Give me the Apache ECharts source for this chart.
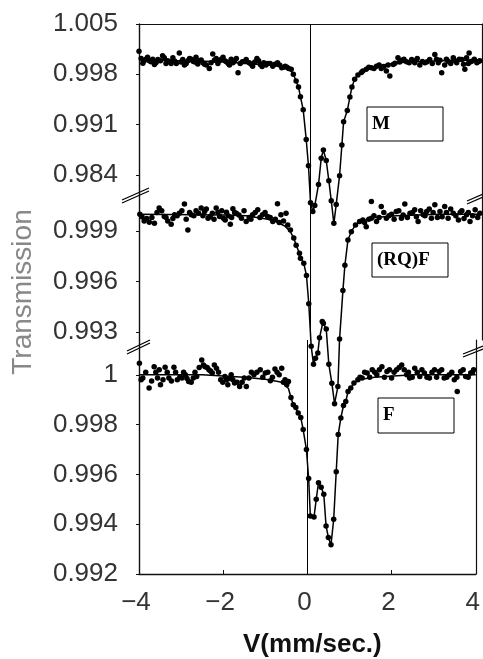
<!DOCTYPE html>
<html>
<head>
<meta charset="utf-8">
<script src="https://cdn.jsdelivr.net/npm/echarts@6/dist/echarts.min.js"></script>
<style>
html,body{margin:0;padding:0;background:#fff;}
#chart{width:483px;height:659px;}
</style>
</head>
<body>
<div id="chart"></div>
<script>
// velocity axis
var velTicks = [-4, -2, 0, 2, 4];
// tick labels of the three stacked panels (top to bottom)
var mTicks = [1.005, 0.998, 0.991, 0.984];
var rqfTicks = [0.999, 0.996, 0.993];
var fTicks = [1, 0.998, 0.996, 0.994, 0.992];
var panelNames = ['M', '(RQ)F', 'F'];

// M : measured points [velocity, transmission]
var mDots = [
	[-4.0,1.0012],[-3.95,1.0002],[-3.88,0.9999],[-3.80,1.00038],[-3.72,0.99974],[-3.64,0.99937],[-3.56,1.00006],[-3.45,1.0006],
	[-3.37,0.99951],[-3.29,0.99974],[-3.21,1.00029],[-3.13,0.99951],[-3.06,1.00098],[-2.98,1.00006],[-2.90,0.99951],[-2.82,1.0002],
	[-2.74,0.99983],[-2.67,1.00038],[-2.59,0.9999],[-2.51,0.9996],[-2.43,0.99928],[-2.36,0.99882],[-2.28,1.00084],[-2.20,1.0002],
	[-2.12,0.9999],[-2.04,1.00038],[-1.96,0.99974],[-1.89,0.99928],[-1.81,0.9996],[-1.73,1.0002],[-1.69,0.99823],[-1.59,0.99974],
	[-1.50,1.00006],[-1.43,0.9996],[-1.35,0.99914],[-1.25,1.0002],[-1.17,0.99937],[-1.09,0.9996],[-1.0,0.99951],[-0.88,0.99914],
	[-0.77,0.9996],[-0.67,0.99892],[-0.59,0.99914],[-0.51,0.99882],
	[-3.91,0.99955],[-3.84,1.0001],[-3.76,0.9999],[-3.68,1.0001],[-3.60,0.99965],[-3.50,0.9999],[-3.41,1.0003],[-3.33,0.9999],
	[-3.25,0.9995],[-3.17,0.99985],[-3.02,0.9997],[-2.94,0.9993],[-2.86,0.9999],[-2.78,1.0001],[-2.70,0.9997],[-2.63,0.99945],
	[-2.55,1.0000],[-2.47,0.9994],[-2.32,0.9996],[-2.24,0.99995],[-2.16,0.9995],[-2.08,1.0001],[-2.00,0.9999],[-1.92,0.9995],
	[-1.85,1.0001],[-1.77,0.99985],[-1.64,0.9995],[-1.54,0.9998],[-1.39,0.99945],[-1.30,0.9997],[-1.21,0.9999],[-1.13,0.9991],
	[-1.04,0.9993],[-0.94,0.9995],[-0.83,0.9994],[-0.72,0.9993],[-0.63,0.9990],[-0.55,0.9990],
	[-0.45,0.99869],[-0.40,0.998],[-0.335,0.99708],[-0.28,0.99622],[-0.234,0.99488],[-0.17,0.99306],[-0.10,0.98894],[-0.047,0.98527],
	[0.0,0.98015],[0.054,0.97892],[0.10,0.97974],[0.187,0.98266],[0.25,0.98633],[0.30,0.98747],[0.367,0.98601],[0.428,0.98321],
	[0.484,0.98043],[0.545,0.97727],[0.60,0.9799],[0.678,0.9839],[0.732,0.98816],[0.772,0.99141],[0.858,0.99296],[0.919,0.99484],
	[0.966,0.99622],[1.03,0.99731],[1.106,0.9979],[1.186,0.99827],
	[1.22,0.99845],[1.30,0.99869],[1.42,0.99892],[1.54,0.99914],[1.65,0.99882],[1.77,0.99845],[1.85,0.99777],[1.93,0.99937],
	[2.04,1.00029],[2.12,0.99996],[2.24,0.99974],[2.36,1.00006],[2.43,0.9996],[2.55,0.99928],[2.67,0.9996],[2.78,1.00006],
	[2.90,1.00075],[2.98,0.9996],[3.06,0.99823],[3.13,0.99928],[3.21,0.99983],[3.33,1.00029],[3.41,0.9996],[3.53,1.00006],
	[3.60,0.99869],[3.68,0.99951],[3.70,1.00098],[3.76,0.99983],[3.88,0.9996],[3.95,0.9999],
	[1.36,0.9990],[1.48,0.9988],[1.60,0.9993],[1.71,0.9991],[1.81,0.9993],[1.97,0.99955],[2.08,0.9997],[2.18,1.0001],
	[2.30,0.9996],[2.40,0.9999],[2.49,1.0002],[2.61,0.9998],[2.72,0.99975],[2.84,0.9995],[2.94,1.0001],[3.02,0.99995],
	[3.17,1.0001],[3.27,0.9995],[3.37,0.9999],[3.47,1.0001],[3.57,0.9994],[3.64,1.0003],[3.72,0.9997],[3.82,1.0001],[3.92,0.9998]
];
// M : fitted curve
var mFit = [
	[-4,0.99995],[-3,0.9999],[-2,0.99975],[-1.5,0.9995],[-1,0.9993],[-0.7,0.9991],[-0.55,0.9988],[-0.45,0.99845],[-0.40,0.998],
	[-0.335,0.99708],[-0.28,0.99622],[-0.234,0.99488],[-0.17,0.99306],[-0.10,0.98894],[-0.047,0.98527],[0,0.98015],[0.054,0.97892],
	[0.10,0.97974],[0.187,0.98266],[0.25,0.98633],[0.30,0.98747],[0.367,0.98601],[0.428,0.98321],[0.484,0.98043],[0.545,0.97727],
	[0.60,0.9799],[0.678,0.9839],[0.732,0.98816],[0.772,0.99141],[0.858,0.99296],[0.919,0.99484],[0.966,0.99622],[1.03,0.99731],
	[1.106,0.9979],[1.186,0.99827],[1.3,0.9986],[1.6,0.9992],[2,0.9996],[3,0.9999],[4,1.0]
];

// (RQ)F : measured points
var rqfDots = [
	[-3.98,1.0],[-3.88,0.9996],[-3.76,0.99952],[-3.64,0.99946],[-3.53,1.00036],[-3.41,0.99986],[-3.33,0.9996],[-3.25,0.9994],
	[-3.17,0.99996],[-3.06,1.00006],[-2.94,1.0006],[-2.86,0.99906],[-2.78,0.99996],[-2.67,1.0002],[-2.55,1.00036],[-2.47,1.00016],
	[-2.39,0.99976],[-2.29,1.00006],[-2.20,1.00036],[-2.12,0.99986],[-2.03,0.99976],[-1.96,1.00012],[-1.87,0.9994],[-1.81,1.00032],
	[-1.73,1.00006],[-1.61,0.99976],[-1.50,0.99956],[-1.43,0.9998],[-1.35,0.99996],[-1.23,1.00026],[-1.12,0.99996],[-1.0,0.99986],
	[-0.88,0.99956],[-0.77,1.00062],[-0.69,0.99996],[-0.57,1.00006],[-0.53,0.99936],
	[-3.93,0.99985],[-3.82,0.99975],[-3.70,0.9998],[-3.58,1.0001],[-3.47,1.0002],[-3.37,0.9998],[-3.21,0.99975],[-3.11,0.9999],
	[-3.00,1.0002],[-2.90,0.9997],[-2.82,1.0001],[-2.72,0.9999],[-2.61,1.00005],[-2.51,0.9999],[-2.43,1.0003],[-2.34,0.99985],
	[-2.25,0.9997],[-2.16,1.0001],[-2.07,1.0002],[-1.99,0.99965],[-1.92,0.9999],[-1.84,0.9998],[-1.77,1.0001],[-1.67,0.99995],
	[-1.55,1.0002],[-1.39,0.9997],[-1.29,1.0001],[-1.18,0.9998],[-1.06,1.0001],[-0.94,0.9998],[-0.82,0.9997],[-0.73,0.9995],[-0.63,0.9996],
	[-0.468,0.99906],[-0.39,0.99858],[-0.335,0.99816],[-0.257,0.99768],[-0.234,0.99738],[-0.157,0.99708],[-0.094,0.99636],[-0.04,0.99468],
	[0.016,0.99216],[0.07,0.99108],[0.117,0.99144],[0.171,0.99176],[0.21,0.99266],[0.274,0.99362],[0.30,0.99352],[0.367,0.99318],
	[0.428,0.99108],[0.498,0.98996],[0.561,0.98874],[0.639,0.98976],[0.678,0.99258],[0.756,0.99546],[0.802,0.99696],[0.873,0.99846],
	[0.952,0.99896],[1.05,0.99936],[1.146,0.99956],
	[1.22,0.99966],[1.30,0.99926],[1.42,0.99976],[1.42,1.00076],[1.54,0.99956],[1.65,1.00046],[1.77,0.99976],[1.89,1.0],
	[2.0,1.00016],[2.12,0.99976],[2.20,1.0006],[2.32,1.00006],[2.43,1.00026],[2.51,0.99956],[2.63,0.99996],[2.71,1.00016],
	[2.82,0.99976],[2.90,1.00056],[3.02,1.00016],[3.13,1.00046],[3.21,0.99976],[3.33,1.00006],[3.45,0.99966],[3.53,1.0002],
	[3.64,0.99996],[3.72,0.99956],[3.84,1.00026],[3.95,1.00006],
	[1.26,0.9995],[1.36,0.9997],[1.48,0.9999],[1.60,0.9998],[1.71,1.0001],[1.83,0.9999],[1.95,0.9997],[2.06,1.0002],
	[2.16,0.99995],[2.26,0.9998],[2.38,1.0001],[2.47,0.99985],[2.57,1.0002],[2.67,0.9999],[2.77,1.0003],[2.86,1.0001],
	[2.96,0.9998],[3.07,0.99985],[3.17,1.0001],[3.27,1.0003],[3.39,0.9999],[3.49,1.0001],[3.58,0.99975],[3.68,1.0001],[3.78,0.9999],[3.90,0.9998]
];
// (RQ)F : fitted curve
var rqfFit = [
	[-4,1.0],[-2,0.99995],[-1.5,0.9999],[-1,0.9997],[-0.8,0.99955],[-0.6,0.9993],[-0.468,0.99895],[-0.39,0.99858],[-0.335,0.99816],
	[-0.257,0.99768],[-0.234,0.99745],[-0.157,0.99708],[-0.094,0.99636],[-0.04,0.99468],[0.016,0.99216],[0.07,0.99108],[0.117,0.99144],
	[0.171,0.99176],[0.21,0.99266],[0.288,0.99356],[0.367,0.99318],[0.428,0.99108],[0.498,0.98996],[0.561,0.98874],[0.639,0.98976],
	[0.678,0.99258],[0.756,0.99546],[0.802,0.99696],[0.873,0.99846],[0.952,0.99896],[1.05,0.99936],[1.146,0.99956],[1.5,0.9998],
	[2,0.9999],[3,1.0],[4,1.0]
];

// F : measured points
var fDots = [
	[-3.99,1.00047],[-3.91,0.99987],[-3.76,0.99947],[-3.64,1.00033],[-3.56,0.99987],[-3.49,0.9996],[-3.38,1.00031],[-3.29,0.99987],
	[-3.17,1.00031],[-3.09,0.9998],[-2.98,0.99987],[-2.90,1.0],[-2.82,0.99973],[-2.71,0.99987],[-2.63,0.99993],[-2.51,1.0006],
	[-2.43,1.00033],[-2.34,1.0002],[-2.26,1.00007],[-2.16,1.00027],[-2.06,0.9998],[-1.96,0.99993],[-1.89,0.9996],[-1.81,1.0],
	[-1.73,0.99967],[-1.61,0.99953],[-1.50,0.99987],[-1.45,0.99953],[-1.39,0.99987],[-1.27,1.0],[-1.12,1.0002],[-1.0,1.00007],
	[-0.88,0.99976],[-0.77,1.00024],[-0.67,1.0],[-0.61,1.00027],[-0.53,0.9998],
	[-3.95,0.9998],[-3.84,1.0001],[-3.70,0.99975],[-3.60,1.0001],[-3.52,1.0002],[-3.43,0.9998],[-3.33,1.0001],[-3.23,0.99975],
	[-3.13,1.0001],[-3.03,0.9999],[-2.94,1.0001],[-2.86,0.99985],[-2.76,0.9997],[-2.67,1.0001],[-2.57,1.0003],[-2.47,1.0004],
	[-2.38,1.0003],[-2.30,1.00015],[-2.21,1.0004],[-2.11,1.0001],[-2.01,0.9997],[-1.92,0.9998],[-1.85,0.99985],[-1.77,0.9998],
	[-1.67,0.9997],[-1.55,0.9997],[-1.33,1.0001],[-1.20,1.0001],[-1.06,0.9999],[-0.94,1.0001],[-0.83,0.9999],[-0.72,1.0001],
	[-0.57,0.9997],[-0.49,0.9996],
	[-0.45,0.99973],[-0.39,0.99909],[-0.335,0.9988],[-0.274,0.99869],[-0.218,0.99847],[-0.157,0.99829],[-0.10,0.9978],[-0.023,0.997],
	[0.03,0.99584],[0.07,0.99433],[0.157,0.99429],[0.21,0.995],[0.264,0.99567],[0.327,0.99548],[0.39,0.9952],[0.444,0.99393],
	[0.498,0.99347],[0.561,0.99317],[0.625,0.9942],[0.685,0.99611],[0.732,0.9976],[0.795,0.99827],[0.858,0.99877],[0.912,0.99893],
	[0.966,0.99933],[1.03,0.99947],[1.106,0.99967],[1.2,0.9998],
	[1.30,0.99987],[1.42,1.00007],[1.54,1.0002],[1.65,1.0],[1.77,1.00033],[1.89,1.00013],[2.0,0.99987],[2.12,1.0002],
	[2.24,1.0004],[2.36,1.0],[2.43,0.99987],[2.55,1.00027],[2.67,0.99993],[2.78,1.00007],[2.90,0.99987],[3.02,1.0002],
	[3.13,1.00013],[3.25,0.99987],[3.37,1.0],[3.49,0.9998],[3.56,0.99933],[3.64,1.00013],[3.76,0.99993],[3.88,1.00007],[3.95,1.0002],
	[1.25,0.9999],[1.36,1.0001],[1.48,0.9999],[1.60,1.0001],[1.71,1.0002],[1.83,0.9999],[1.95,1.0002],[2.06,1.0001],
	[2.18,1.0003],[2.30,1.0002],[2.40,1.0001],[2.49,0.9999],[2.61,1.0001],[2.72,1.0002],[2.84,0.9999],[2.96,1.0001],
	[3.07,0.9999],[3.19,1.0002],[3.31,0.9999],[3.43,1.0001],[3.55,0.9999],[3.70,1.0002],[3.82,0.9999],[3.92,1.0001]
];
// F : fitted curve
var fFit = [
	[-4,1.0],[-2.5,1.0],[-1.5,0.9999],[-1,0.99982],[-0.6,0.9997],[-0.45,0.99945],[-0.39,0.99909],[-0.335,0.9988],[-0.274,0.99865],
	[-0.218,0.99847],[-0.157,0.99829],[-0.10,0.9978],[-0.023,0.997],[0.03,0.99584],[0.07,0.99433],[0.157,0.99429],[0.21,0.995],
	[0.264,0.99567],[0.327,0.99548],[0.39,0.9952],[0.444,0.99393],[0.498,0.99347],[0.561,0.99317],[0.625,0.9942],[0.685,0.99611],
	[0.732,0.9976],[0.795,0.99827],[0.858,0.99877],[0.912,0.99893],[0.966,0.99933],[1.03,0.99947],[1.106,0.99967],[1.2,0.9998],
	[1.6,0.9999],[2.5,1.0],[4,1.0]
];

var FONT = '"Liberation Sans", Arial, sans-serif';
var INK = '#111';

// layout of the three stacked panels (top, height, y range)
var panels = [
	{top: 24,  height: 168, min: 0.98163, max: 1.005,    ticks: mTicks,   dots: mDots,   fit: mFit},
	{top: 192, height: 148, min: 0.992525, max: 1.001317, ticks: rqfTicks, dots: rqfDots, fit: rqfFit},
	{top: 340, height: 235, min: 0.992,   max: 1.0014,   ticks: fTicks,   dots: fDots,   fit: fFit}
];

function fmtY(v)
{
	return String(+Number(v).toFixed(3));
}

var option = {animation: false, backgroundColor: '#fff'};
option.grid = [];
option.xAxis = [];
option.yAxis = [];
option.series = [];

for (var i = 0; i < panels.length; i++)
{
	var p = panels[i];
	option.grid.push({left: 139, right: 1, top: p.top, height: p.height});
	var xa = {
		gridIndex: i, type: 'value', min: -4, max: 4,
		axisLine: {show: false, onZero: false},
		axisTick: {show: false}, axisLabel: {show: false}, splitLine: {show: false}
	};
	if (i == 0)
	{
		//top frame line
		xa.position = 'top';
		xa.axisLine = {show: true, onZero: false, lineStyle: {color: INK, width: 1.2}};
	}
	if (i == panels.length - 1)
	{
		xa.position = 'bottom';
		xa.interval = 2;
		xa.axisLine = {show: true, onZero: false, lineStyle: {color: INK, width: 1.4}};
		xa.axisTick = {show: true, inside: true, length: 4, lineStyle: {color: INK}};
		xa.axisLabel = {
			show: true, fontSize: 26, fontFamily: FONT, color: '#333', margin: 16, padding: [0, 6, 0, 0],
			formatter: function (v) { return String(v).replace('-', '\u2212'); }
		};
		xa.name = 'V(mm/sec.)';
		xa.nameLocation = 'middle';
		xa.nameGap = 58;
		xa.nameTextStyle = {fontSize: 26, fontWeight: 'bold', fontFamily: FONT, color: '#111', padding: [0, 0, 0, 10]};
	}
	option.xAxis.push(xa);
	option.yAxis.push({
		gridIndex: i, type: 'value', min: p.min, max: p.max, position: 'left',
		axisLine: {show: true, onZero: false, lineStyle: {color: INK, width: 1.4}},
		axisTick: {show: true, length: 3, customValues: p.ticks, lineStyle: {color: INK}},
		axisLabel: {show: true, customValues: p.ticks, fontSize: 26, fontFamily: FONT, color: '#333', margin: 21, formatter: fmtY},
		splitLine: {show: false}
	});
}
//right frame lines
for (var i = 0; i < panels.length; i++)
{
	option.yAxis.push({
		gridIndex: i, type: 'value', min: panels[i].min, max: panels[i].max, position: 'right',
		axisLine: {show: true, onZero: false, lineStyle: {color: INK, width: 1.2}},
		axisTick: {show: false}, axisLabel: {show: false}, splitLine: {show: false}
	});
}

for (var i = 0; i < panels.length; i++)
{
	var p = panels[i];
	//scatter默认有0.8透明度，这里改成实心黑点
	option.series.push({
		name: panelNames[i] + ' data', type: 'scatter', xAxisIndex: i, yAxisIndex: i,
		data: p.dots, symbol: 'circle', symbolSize: 5.5, clip: false, silent: true,
		itemStyle: {color: '#000', opacity: 1}, z: 3
	});
	option.series.push({
		name: panelNames[i] + ' fit', type: 'line', xAxisIndex: i, yAxisIndex: i,
		data: p.fit, showSymbol: false, clip: false, silent: true,
		lineStyle: {color: '#000', width: 1.5}, z: 4,
		markLine: {
			silent: true, symbol: ['none', 'none'], label: {show: false},
			lineStyle: {color: '#000', width: 1, type: 'solid'},
			data: [{xAxis: 0}]
		}
	});
}

// axis breaks, y title and sample boxes
function brk(x1, y1, x2, y2)
{
	return [
		{type: 'line', shape: {x1: x1, y1: y1, x2: x2, y2: y2}, style: {stroke: '#000', lineWidth: 1.3}},
		{type: 'line', shape: {x1: x1, y1: y1 + 3, x2: x2, y2: y2 + 3}, style: {stroke: '#000', lineWidth: 1.3}}
	];
}
function box(x, y, w, h, txt)
{
	return {
		type: 'group', children: [
			{type: 'rect', shape: {x: x, y: y, width: w, height: h}, style: {fill: '#fff', stroke: '#000', lineWidth: 1}},
			{type: 'text', x: x + 5, y: y + h / 2, style: {text: txt, font: 'bold 19px "Liberation Serif", serif', fill: '#000', verticalAlign: 'middle'}}
		]
	};
}
var graphics = [];
graphics = graphics.concat(brk(122, 200, 149, 188));
graphics = graphics.concat(brk(127, 351, 150, 340));
graphics = graphics.concat(brk(467, 201, 483, 194));
graphics = graphics.concat(brk(463, 354, 483, 346));
graphics.push(box(367, 107, 76, 34, panelNames[0]));
graphics.push(box(372, 243, 76, 34, panelNames[1]));
graphics.push(box(378, 398, 76, 35, panelNames[2]));
graphics.push({
	type: 'text', x: 23, y: 292, rotation: Math.PI / 2,
	style: {text: 'Transmission', font: '28px ' + FONT, fill: '#888', align: 'center', verticalAlign: 'middle'}
});
option.graphic = graphics;

var myChart = echarts.init(document.getElementById('chart'), null, {renderer: 'canvas'});
myChart.setOption(option);
</script>
</body>
</html>
